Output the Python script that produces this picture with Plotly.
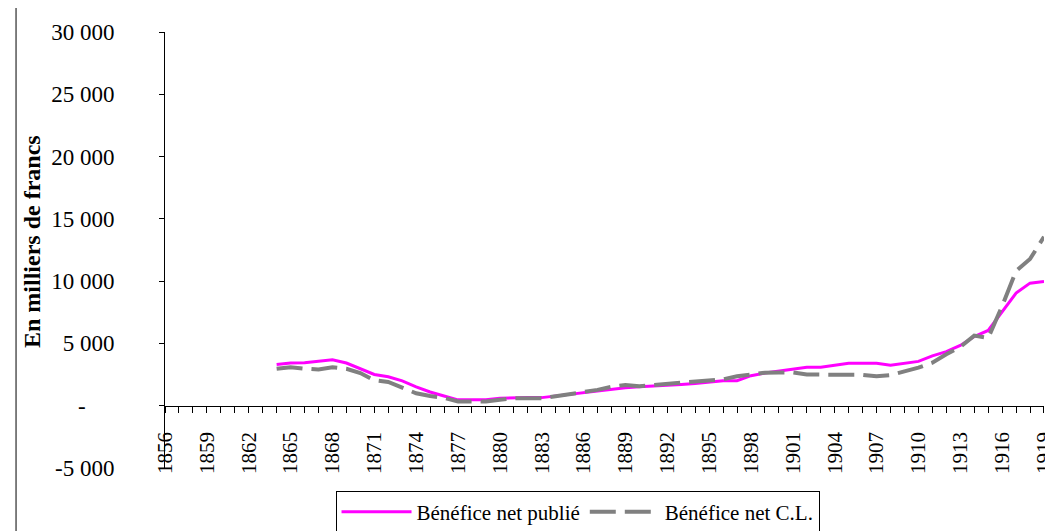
import plotly.graph_objects as go

years = list(range(1856, 1920))
benefice_publie = [None] * 8 + [
    3300, 3430, 3450, 3560, 3690, 3430, 2960, 2510, 2330, 1990, 1520, 1100,
    785, 470, 470, 470, 600, 650, 650, 650, 785, 920, 1075, 1200,
    1310, 1440, 1520, 1570, 1650, 1700, 1780, 1880, 2010, 2010, 2410, 2620,
    2770, 2930, 3090, 3090, 3270, 3400, 3400, 3400, 3240, 3400, 3560, 4000,
    4340, 4840, 5550, 6040, 7540, 9050, 9840, 9970]
benefice_cl = [None] * 8 + [
    2960, 3090, 2980, 2900, 3090, 2960, 2620, 2040, 1910, 1470, 1000, 785,
    630, 340, 340, 340, 470, 600, 600, 600, 760, 920, 1120, 1270,
    1520, 1670, 1570, 1670, 1700, 1860, 1940, 2040, 2120, 2360, 2510, 2650,
    2670, 2670, 2510, 2480, 2480, 2480, 2480, 2360, 2460, 2720, 3060, 3450,
    4130, 4710, 5630, 5440, 8000, 10810, 11780, 13560]

y_tickvals = [-5000, 0, 5000, 10000, 15000, 20000, 25000, 30000]
y_ticktext = ["-5 000", "-" + "\u00a0" * 5, "5 000", "10 000", "15 000",
              "20 000", "25 000", "30 000"]
x_tickvals = list(range(1856, 1920, 3))
x_ticktext = [str(v) for v in x_tickvals]

FONT = "Liberation Serif"

fig = go.Figure()
fig.add_trace(go.Scatter(
    x=years, y=benefice_publie, mode="lines", name="Bénéfice net publié",
    line=dict(color="#FF00FF", width=3)))
fig.add_trace(go.Scatter(
    x=years, y=benefice_cl, mode="lines", name="Bénéfice net C.L.",
    line=dict(color="#808080", width=4, dash="26px,9px")))

fig.update_layout(
    width=1053, height=531,
    margin=dict(l=157, r=5, t=24, b=61),
    paper_bgcolor="white", plot_bgcolor="white",
    font=dict(family=FONT, size=20, color="black"),
    showlegend=True,
    legend=dict(
        orientation="h", x=0.194, y=-0.052, xanchor="left", yanchor="top",
        bordercolor="black", borderwidth=1, bgcolor="white",
        font=dict(family=FONT, size=21, color="black"),
        itemwidth=70, tracegroupgap=0,
    ),
    xaxis=dict(
        range=[1855.999, 1919.001], tickmode="array", tickvals=x_tickvals,
        ticktext=x_ticktext, tickangle=-90, ticks="outside", ticklen=6,
        tickcolor="black", showline=True, linecolor="black", linewidth=1,
        showgrid=False, zeroline=False, anchor="free",
        position=5000 / 35000, ticklabelstandoff=11,
        ticklabeloverflow="allow",
        tickfont=dict(family=FONT, size=21, color="black"),
        minor=dict(dtick=1, tick0=1856, ticks="outside", ticklen=6,
                   tickcolor="black", showgrid=False),
    ),
    yaxis=dict(
        range=[-5000, 30000], tickmode="array", tickvals=y_tickvals,
        ticktext=y_ticktext, ticks="outside", ticklen=5, tickcolor="black",
        showline=True, linecolor="black", linewidth=1, showgrid=False,
        zeroline=False, ticklabelstandoff=40,
        tickfont=dict(family=FONT, size=23, color="black"),
    ),
)

# Y-axis title
fig.add_annotation(
    text="<b>En milliers de francs</b>", textangle=-90,
    xref="paper", yref="paper", x=(22 - 157) / 891, y=(470 - 238) / 446,
    xanchor="center", yanchor="middle", showarrow=False,
    font=dict(family=FONT, size=24, color="black"))

# Chart frame (outer border)
fig.add_shape(type="rect", xref="paper", yref="paper",
              x0=(6 - 157) / 891, x1=(1050 - 157) / 891, y0=-0.5, y1=1.5,
              line=dict(color="black", width=1), fillcolor="rgba(0,0,0,0)",
              layer="above")

# Title, cropped at the top of the picture as in the reference
fig.add_annotation(
    text="Bénéfice net du Crédit Lyonnais (1864-1919) : moyennes mobiles sur trois ans",
    xref="paper", yref="paper", x=(509 - 157) / 891, y=1 + 22 / 446,
    xanchor="center", yanchor="bottom", showarrow=False,
    font=dict(family=FONT, size=20, color="black"))

fig.write_html("out.html")
